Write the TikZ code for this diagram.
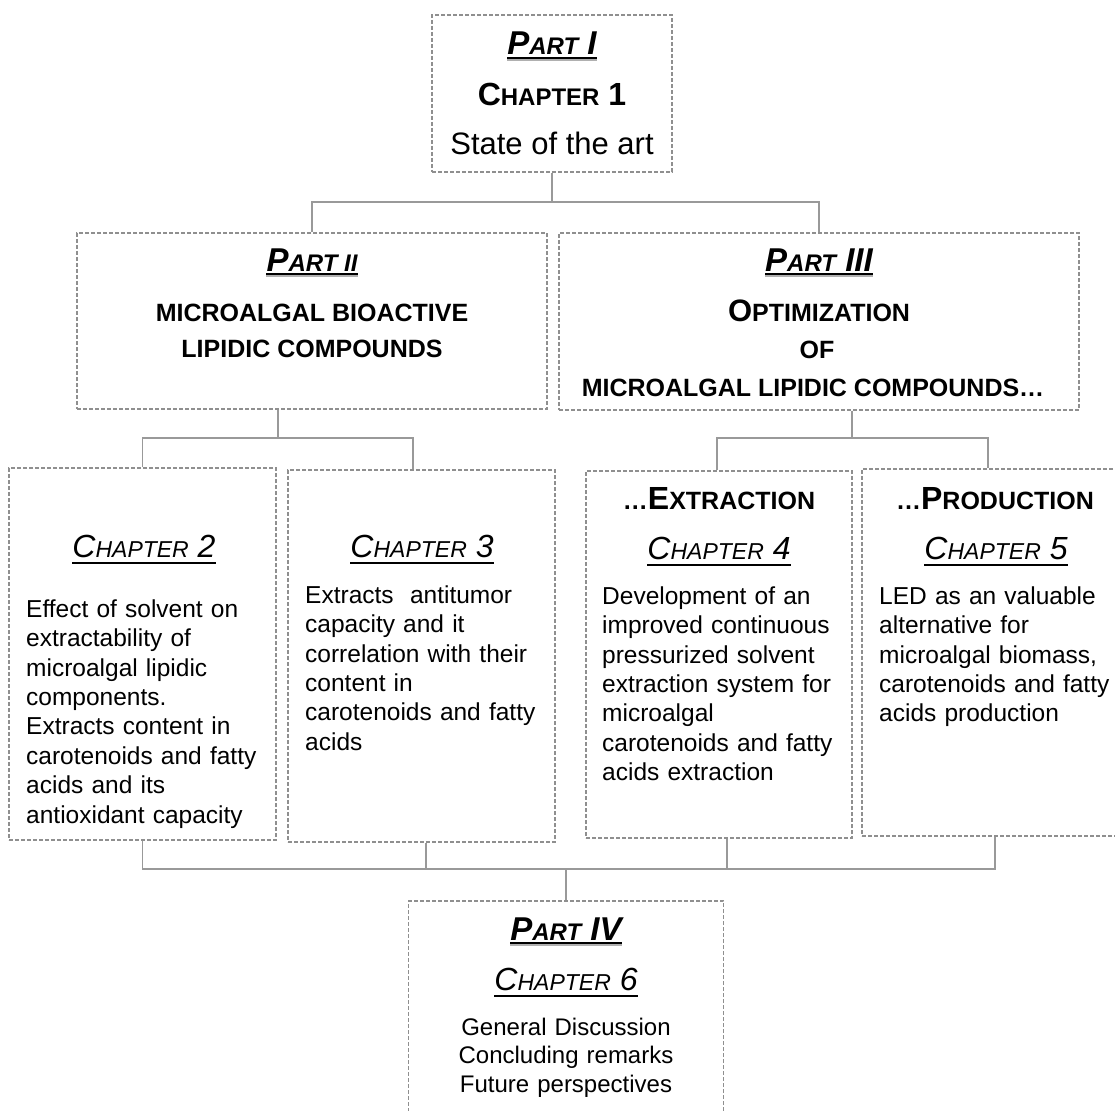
\documentclass[tikz,border=0pt]{standalone}
\usepackage{fontspec}
\setmainfont{Liberation Sans}
\definecolor{bordergray}{HTML}{8F8F8F}
\definecolor{linegray}{HTML}{999999}
\definecolor{ulgray}{HTML}{B0B0B0}
\newcommand\SCh[4]{{\fontsize{#1}{#1}\selectfont#2}{\fontsize{#3}{#3}\selectfont#4}}
\tikzset{
  box/.style={draw=bordergray, dash pattern=on 4pt off 2pt, line width=1.1pt, rectangle, inner sep=0pt},
  conn/.style={draw=linegray, line width=1.8pt},
  lbl/.style={inner sep=0pt, anchor=base},
  body/.style={inner sep=0pt, anchor=north west, align=left, text width=275pt, font=\fontsize{24.5}{29.4}\selectfont},
  ulpartb/.style={draw=black, line width=1.1pt},
  ulpartg/.style={draw=ulgray, line width=2.6pt},
  ulchap/.style={draw=black, line width=1.4pt},
}
\newcommand\partul[1]{%
  \draw[ulpartg] ([yshift=-5pt]#1.base west) -- ([yshift=-5pt]#1.base east);
  \draw[ulpartb] ([yshift=-3pt]#1.base west) -- ([yshift=-3pt]#1.base east);}
\newcommand\chapul[1]{%
  \draw[ulchap] ([yshift=-6pt]#1.base west) -- ([yshift=-6pt]#1.base east);}
\begin{document}
\begin{tikzpicture}[x=1pt,y=-1pt]
\clip (0,0) rectangle (1115,1110);
\fill[white] (0,0) rectangle (1115,1110);

% boxes
\node[box, minimum width=240pt, minimum height=157pt] (top) at (552,93.5) {};
\node[box, minimum width=470pt, minimum height=176pt] (p2) at (312,321) {};
\node[box, minimum width=520pt, minimum height=177pt] (p3) at (819,321.5) {};
\node[box, minimum width=267pt, minimum height=372pt] (c2) at (142.5,654) {};
\node[box, minimum width=267pt, minimum height=372pt] (c3) at (421.5,656) {};
\node[box, minimum width=266pt, minimum height=367pt] (c4) at (719,654.5) {};
\node[box, minimum width=266pt, minimum height=367pt] (c5) at (995,652.5) {};
\node[box, minimum width=315pt, minimum height=219pt] (p4) at (566,1010.5) {};

% top box text
\node[lbl, font=\bfseries\itshape] (tP) at (552,55) {\SCh{33}{P}{24}{ART}{\fontsize{33}{33}\selectfont\ I}};
\partul{tP}
\node[lbl, font=\bfseries] (tC) at (552,106) {\SCh{32}{C}{24}{HAPTER}{\fontsize{32}{32}\selectfont\ 1}};
\node[lbl, font=\fontsize{31}{31}\selectfont] (tS) at (552,155) {State of the art};

% part II text
\node[lbl, font=\bfseries\itshape] (p2h) at (312,271) {\SCh{33}{P}{24}{ART II}};
\partul{p2h}
\node[lbl, font=\bfseries\fontsize{25}{25}\selectfont] (p2a) at (312,321) {MICROALGAL BIOACTIVE};
\node[lbl, font=\bfseries\fontsize{25}{25}\selectfont] (p2b) at (312,357) {LIPIDIC COMPOUNDS};

% part III text
\node[lbl, font=\bfseries\itshape] (p3h) at (819,271) {\SCh{33}{P}{24}{ART}{\fontsize{33}{33}\selectfont\ III}};
\partul{p3h}
\node[lbl, font=\bfseries] (p3a) at (819,321) {\SCh{31}{O}{25}{PTIMIZATION}};
\node[lbl, font=\bfseries\fontsize{25}{25}\selectfont] (p3b) at (817,358) {OF};
\node[lbl, font=\bfseries\fontsize{25}{25}\selectfont] (p3c) at (813,396) {MICROALGAL LIPIDIC COMPOUNDS…};

% chapter 2
\node[lbl, font=\itshape] (c2h) at (144,557) {\SCh{32}{C}{23}{HAPTER}{\fontsize{32}{32}\selectfont\ 2}};
\chapul{c2h}
\node[body] (c2t) at (26,597) {\noindent\rule{0pt}{20pt}Effect of solvent on\\ extractability of\\ microalgal lipidic\\ components.\\ Extracts content in\\ carotenoids and fatty\\ acids and its\\ antioxidant capacity};

% chapter 3
\node[lbl, font=\itshape] (c3h) at (422,557) {\SCh{32}{C}{23}{HAPTER}{\fontsize{32}{32}\selectfont\ 3}};
\chapul{c3h}
\node[body] (c3t) at (305,583) {\noindent\rule{0pt}{20pt}Extracts\ \ antitumor\\ capacity and it\\ correlation with their\\ content in\\ carotenoids and fatty\\ acids};

% chapter 4
\node[lbl, font=\bfseries] (c4x) at (719,509) {{\fontsize{25}{25}\selectfont …}\SCh{32}{E}{25}{XTRACTION}};
\node[lbl, font=\itshape] (c4h) at (719,559) {\SCh{32}{C}{23}{HAPTER}{\fontsize{32}{32}\selectfont\ 4}};
\chapul{c4h}
\node[body] (c4t) at (602,584) {\noindent\rule{0pt}{20pt}Development of an\\ improved continuous\\ pressurized solvent\\ extraction system for\\ microalgal\\ carotenoids and fatty\\ acids extraction};

% chapter 5
\node[lbl, font=\bfseries] (c5x) at (995,509) {{\fontsize{25}{25}\selectfont …}\SCh{32}{P}{25}{RODUCTION}};
\node[lbl, font=\itshape] (c5h) at (996,559) {\SCh{32}{C}{23}{HAPTER}{\fontsize{32}{32}\selectfont\ 5}};
\chapul{c5h}
\node[body] (c5t) at (879,584) {\noindent\rule{0pt}{20pt}LED as an valuable\\ alternative for\\ microalgal biomass,\\ carotenoids and fatty\\ acids production};

% part IV
\node[lbl, font=\bfseries\itshape] (p4h) at (566,940) {\SCh{33}{P}{24}{ART}{\fontsize{33}{33}\selectfont\ IV}};
\partul{p4h}
\node[lbl, font=\itshape] (p4c) at (566,990) {\SCh{32}{C}{23}{HAPTER}{\fontsize{32}{32}\selectfont\ 6}};
\chapul{p4c}
\node[inner sep=0pt, anchor=north, align=center, text width=300pt, font=\fontsize{24}{28.5}\selectfont] (p4t) at (566,1015) {\rule{0pt}{20pt}General Discussion\\ Concluding remarks\\ Future perspectives};

% connectors
\coordinate (b1) at (552,202);
\coordinate (b2) at (278,438);
\coordinate (b3) at (852,438);
\coordinate (b4) at (566,869);
\coordinate (x413) at (413,0);
\coordinate (x717) at (717,0);
\coordinate (x988) at (988,0);
\coordinate (x426) at (426,0);
\coordinate (x727) at (727,0);
\draw[conn] (top.south) -- (b1);
\draw[conn] (p2.north) |- (b1) -| (p3.north);
\draw[conn] (b2 |- p2.south) -- (b2);
\draw[conn] (c2.north) |- (b2) -| (c3.north -| x413);
\draw[conn] (b3 |- p3.south) -- (b3);
\draw[conn] (c4.north -| x717) |- (b3) -| (c5.north -| x988);
\draw[conn] (c2.south) |- (b4) -| (c5.south);
\draw[conn] (c3.south -| x426) -- (b4 -| x426);
\draw[conn] (c4.south -| x727) -- (b4 -| x727);
\draw[conn] (b4) -- (p4.north);
\end{tikzpicture}
\end{document}
